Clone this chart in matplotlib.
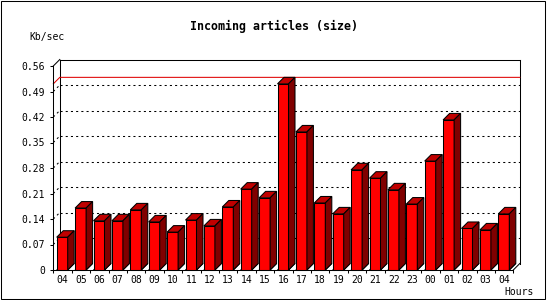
import matplotlib
matplotlib.use("Agg")
import matplotlib.pyplot as plt
from matplotlib.patches import Polygon, Rectangle

hours = ["04", "05", "06", "07", "08", "09", "10", "11", "12", "13", "14", "15", "16",
         "17", "18", "19", "20", "21", "22", "23", "00", "01", "02", "03", "04"]
values = [0.090, 0.170, 0.135, 0.135, 0.165, 0.132, 0.104, 0.137, 0.121, 0.173, 0.222,
          0.198, 0.511, 0.379, 0.184, 0.154, 0.275, 0.252, 0.220, 0.181, 0.299, 0.412,
          0.114, 0.110, 0.154]
yticks = [0, 0.07, 0.14, 0.21, 0.28, 0.35, 0.42, 0.49, 0.56]
ytick_labels = ["0", "0.07", "0.14", "0.21", "0.28", "0.35", "0.42", "0.49", "0.56"]
title = "Incoming articles (size)"
ylabel = "Kb/sec"
xlabel = "Hours"

W, H = 550, 300
fig = plt.figure(figsize=(5.5, 3), dpi=100)
fig.patch.set_facecolor("white")

# axes geometry (pixels)
x0p, x1p = 53.3, 513.3
y0p, y1p = 270.0, 66.0
ax = fig.add_axes([x0p / W, (H - y0p) / H, (x1p - x0p) / W, (y0p - y1p) / H])
n = len(values)
ymax = yticks[-1]
ax.set_xlim(0, n)
ax.set_ylim(0, ymax)
ax.set_facecolor("none")

px_x = (x1p - x0p) / n
px_y = (y0p - y1p) / ymax
depth_px = 6.5
dx = depth_px / px_x
dy = depth_px / px_y
lw = 0.75
mono = "DejaVu Sans Mono"

for s in ["top", "right"]:
    ax.spines[s].set_visible(False)
for s in ["left", "bottom"]:
    ax.spines[s].set_linewidth(lw)
    ax.spines[s].set_zorder(10)

ax.set_yticks(yticks)
ax.set_yticklabels(ytick_labels, fontfamily=mono, fontsize=7)
ax.set_xticks(range(n + 1))
ax.set_xticklabels([])
ax.set_xticks([i + 0.5 for i in range(n)], minor=True)
ax.set_xticklabels(hours, minor=True, fontfamily=mono, fontsize=7)
ax.tick_params(axis="y", direction="out", length=2.5, width=lw, pad=3.5)
ax.tick_params(axis="x", which="major", direction="out", length=2.5, width=lw)
ax.tick_params(axis="x", which="minor", length=0, pad=3.5)

# back wall
wall = dict(color="black", lw=lw, clip_on=False, zorder=1)
ax.plot([dx, dx], [dy, ymax + dy], **wall)
ax.plot([dx, n + dx], [ymax + dy, ymax + dy], **wall)
ax.plot([n + dx, n + dx], [dy, ymax + dy], **wall)
ax.plot([0, dx], [ymax, ymax + dy], **wall)
ax.plot([n, n + dx], [0, dy], **wall)

dot = dict(color="black", lw=lw, ls=(0, (2, 3)), clip_on=False, zorder=1)
for v in yticks[1:-1]:
    ax.plot([dx, n + dx], [v + dy, v + dy], **dot)
    ax.plot([0, dx], [v, v + dy], **dot)

# max line
vmax = max(values)
ax.plot([0, dx, n + dx], [vmax, vmax + dy, vmax + dy], color="#e00000", lw=lw,
        clip_on=False, zorder=2)

# bars
off = 3.4 / px_x
bw = 11.0 / px_x
ec = dict(edgecolor="black", linewidth=lw, clip_on=False, zorder=5, joinstyle="miter")
for i, v in enumerate(values):
    a = i + off
    b = a + bw
    ax.add_patch(Polygon([(a, 0), (b, 0), (b + dx, dy), (a + dx, dy)], closed=True,
                         facecolor="#808080", **ec))
    ax.add_patch(Polygon([(a, 0), (b, 0), (b, v), (a, v)], closed=True,
                         facecolor="#ff0000", **ec))
    ax.add_patch(Polygon([(a, v), (b, v), (b + dx, v + dy), (a + dx, v + dy)], closed=True,
                         facecolor="#c00000", **ec))
    ax.add_patch(Polygon([(b, 0), (b + dx, dy), (b + dx, v + dy), (b, v)], closed=True,
                         facecolor="#800000", **ec))

# texts
fig.text(273.7 / W, 1 - 26.7 / H, title, ha="center", va="center",
         fontfamily=mono, fontweight="bold", fontsize=8.4)
fig.text(47.5 / W, 1 - 37 / H, ylabel, ha="center", va="center", fontfamily=mono, fontsize=7)
fig.text(519 / W, 1 - 292 / H, xlabel, ha="center", va="center", fontfamily=mono, fontsize=7)

# outer border
fig.patches.append(Rectangle((0.5 / W, 1.5 / H), 544.5 / W, 298 / H,
                             transform=fig.transFigure, fill=False,
                             edgecolor="black", linewidth=lw))

fig.savefig("out.png", dpi=100)
